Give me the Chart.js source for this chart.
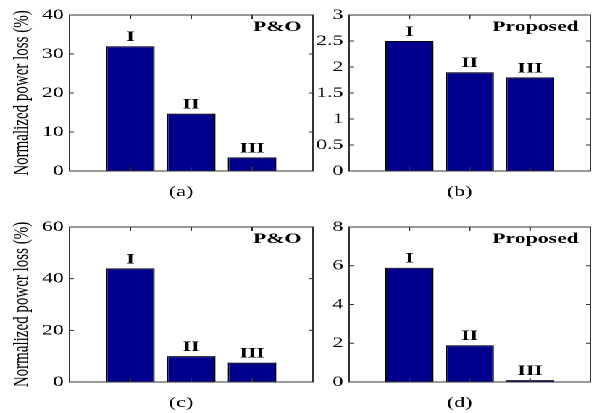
<!DOCTYPE html>
<html>
<head>
<meta charset="utf-8">
<script src="https://cdn.jsdelivr.net/npm/chart.js@4"></script>
<style>
  html, body { margin: 0; padding: 0; background: #fff; }
  /* the source figure is stretched sideways, so draw narrow and scale */
  #fig { position: relative; width: 410px; height: 413px;
         transform: scaleX(1.4488); transform-origin: 0 0; }
  #fig canvas { position: absolute; }
</style>
</head>
<body>
<div id="fig">
  <canvas id="pa" width="219" height="206" style="left:0;top:0"></canvas>
  <canvas id="pb" width="198" height="206" style="left:212px;top:0"></canvas>
  <canvas id="pc" width="219" height="207" style="left:0;top:206px"></canvas>
  <canvas id="pd" width="198" height="207" style="left:212px;top:206px"></canvas>
</div>
<script>
/* ── Data ─────────────────────────────────────────────────────────────── */

var categories = ['I', 'II', 'III'];

var lossA = [32, 14.7, 3.5];    // (a) P&O
var lossB = [2.5, 1.9, 1.8];    // (b) Proposed
var lossC = [44, 10, 7.5];      // (c) P&O
var lossD = [5.9, 1.9, 0.1];    // (d) Proposed

var yMaxA = 40,  yStepA = 10;
var yMaxB = 3,   yStepB = 0.5;
var yMaxC = 60,  yStepC = 20;
var yMaxD = 8,   yStepD = 2;

var yTitle = 'Normalized power loss (%)';

/* ── Styling ──────────────────────────────────────────────────────────── */

var SERIF    = '"Liberation Serif", "Times New Roman", serif';
var BAR_FILL = '#00008c';
var FRAME    = '#333333';

/* Box, inward ticks and the text labels drawn on top of each panel */
var panelPlugin = {
  id: 'panel',
  afterDatasetsDraw: function (chart, args, opts) {
    var ctx = chart.ctx;
    var a   = chart.chartArea;
    var x   = chart.scales.x;
    var y   = chart.scales.y;

    ctx.save();
    ctx.strokeStyle = FRAME;
    ctx.lineWidth   = 1;
    ctx.strokeRect(a.left, a.top, a.right - a.left, a.bottom - a.top);

    ctx.beginPath();
    y.ticks.forEach(function (t) {
      var py = y.getPixelForValue(t.value);
      ctx.moveTo(a.left, py);  ctx.lineTo(a.left + 3, py);
      ctx.moveTo(a.right, py); ctx.lineTo(a.right - 3, py);
    });
    categories.forEach(function (c, i) {
      var px = x.getPixelForValue(i + 1);
      ctx.moveTo(px, a.top);    ctx.lineTo(px, a.top + 4);
      ctx.moveTo(px, a.bottom); ctx.lineTo(px, a.bottom - 4);
    });
    ctx.stroke();

    ctx.fillStyle    = '#000';
    ctx.textBaseline = 'alphabetic';
    ctx.font         = 'bold 15px ' + SERIF;
    ctx.textAlign    = 'center';
    chart.getDatasetMeta(0).data.forEach(function (bar, i) {
      ctx.fillText(categories[i], bar.x, bar.y - 5);
    });

    ctx.textAlign = 'right';
    ctx.fillText(opts.tag, a.right - 8, a.top + 16);

    ctx.font      = '15px ' + SERIF;
    ctx.textAlign = 'center';
    ctx.fillText(opts.name, (a.left + a.right) / 2 - 7, a.bottom + 25);
    ctx.restore();
  }
};

function makePanel(id, values, yMax, yStep, opt) {
  var points = values.map(function (v, i) { return { x: i + 1, y: v }; });

  return new Chart(document.getElementById(id), {
    type: 'bar',
    data: {
      datasets: [{
        data:               points,
        backgroundColor:    BAR_FILL,
        borderColor:        '#000',
        borderWidth:        1,
        categoryPercentage: 1,
        barPercentage:      0.8
      }]
    },
    options: {
      responsive:       false,
      animation:        false,
      devicePixelRatio: 2,
      layout: { padding: opt.padding },
      plugins: {
        legend:  { display: false },
        tooltip: { enabled: false },
        panel:   { tag: opt.tag, name: opt.name }
      },
      scales: {
        x: {
          type: 'linear', min: 0, max: 4,
          offset: false,
          ticks:  { display: false },
          grid:   { display: false, drawTicks: false },
          border: { display: false }
        },
        y: {
          min: 0, max: yMax,
          ticks: {
            stepSize: yStep,
            padding:  4,
            color:    '#000',
            font:     { family: SERIF, size: 15 },
            callback: function (v) { return String(v); }
          },
          grid:   { display: false, drawTicks: false },
          border: { display: false },
          title: {
            display: !!opt.title,
            text:    opt.title || '',
            color:   '#000',
            font:    { family: SERIF, size: 15 },
            padding: { top: 6, bottom: 0 }
          },
          afterFit: function (s) { s.width = opt.axisWidth; }
        }
      }
    },
    plugins: [panelPlugin]
  });
}

makePanel('pa', lossA, yMaxA, yStepA, {
  tag: 'P&O', name: '(a)', title: yTitle, axisWidth: 48,
  padding: { top: 15, right: 3, bottom: 35, left: 0 }
});
makePanel('pb', lossB, yMaxB, yStepB, {
  tag: 'Proposed', name: '(b)', title: null, axisWidth: 29,
  padding: { top: 15, right: 2.5, bottom: 35, left: 0 }
});
makePanel('pc', lossC, yMaxC, yStepC, {
  tag: 'P&O', name: '(c)', title: yTitle, axisWidth: 48,
  padding: { top: 21, right: 3, bottom: 31, left: 0 }
});
makePanel('pd', lossD, yMaxD, yStepD, {
  tag: 'Proposed', name: '(d)', title: null, axisWidth: 29,
  padding: { top: 21, right: 2.5, bottom: 31, left: 0 }
});
</script>
</body>
</html>
